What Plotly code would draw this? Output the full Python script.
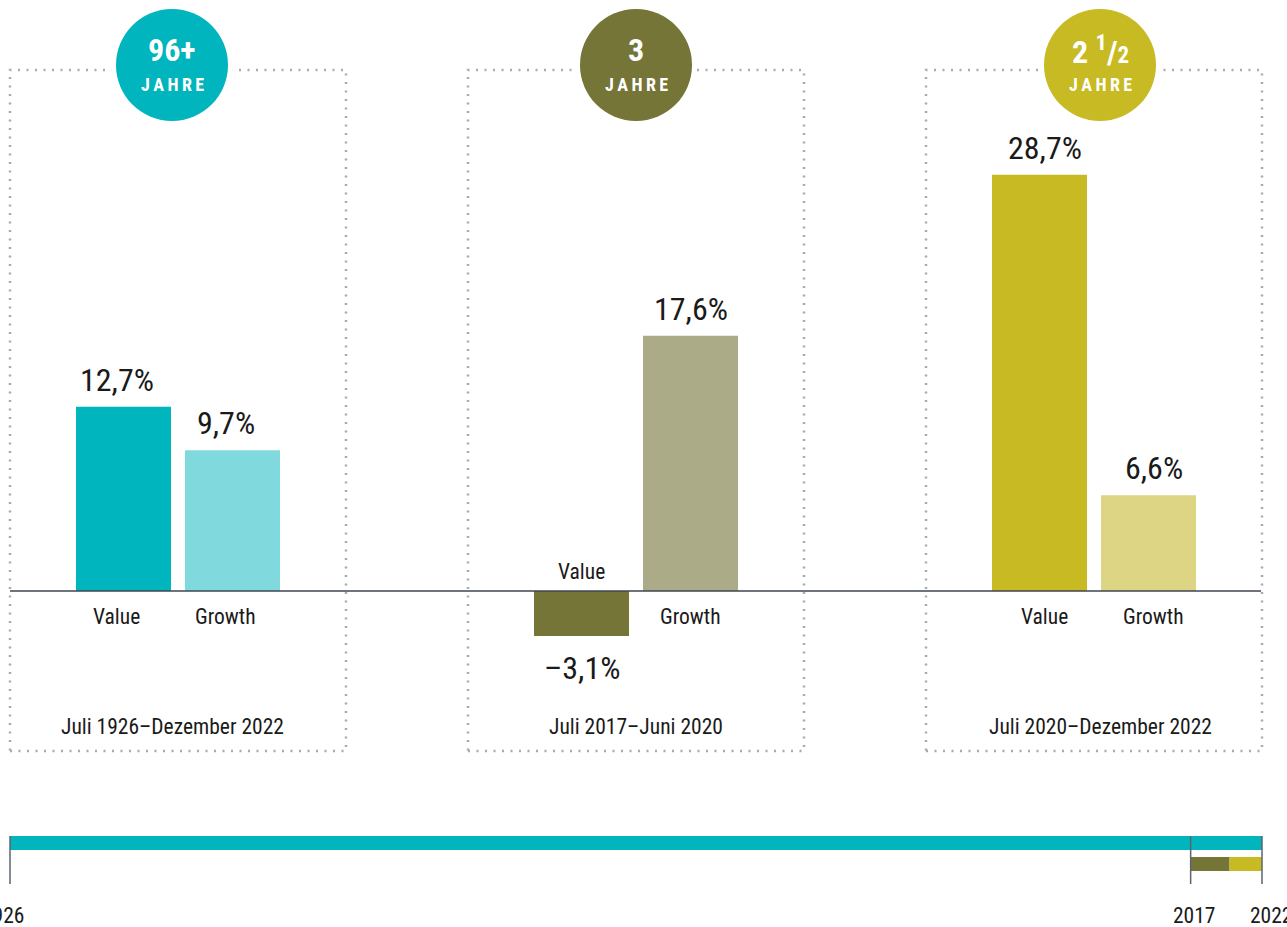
import plotly.graph_objects as go

# ---------------- data ----------------
groups = ["96+", "3", "2 1/2"]
periods = ["Juli 1926–Dezember 2022", "Juli 2017–Juni 2020", "Juli 2020–Dezember 2022"]
series = ["Value", "Growth"]
value_returns = [12.7, -3.1, 28.7]
growth_returns = [9.7, 17.6, 6.6]
timeline_starts = [1926.5, 2017.5, 2020.5]
timeline_ends = [2023.0, 2020.5, 2023.0]
timeline_ticks = [1926.5, 2017.5, 2023.0]
timeline_tick_labels = ["1926", "2017", "2022"]

# ---------------- styling ----------------
W, H = 1287, 927
FONT = "Roboto Condensed, Liberation Sans Narrow, DejaVu Sans Condensed, Arial Narrow, sans-serif"
TXT = "#1a1a1a"
dark_cols = ["#00b5bd", "#747537", "#c8ba22"]
light_cols = ["#80d9dd", "#abab88", "#ddd484"]
box_x = [(10, 346), (468, 804), (926, 1262)]
circle_cx = [172, 636, 1100]
text_shift = [-7, 0, 5]
box_top, box_bot = 70, 751
base_px = 591.0
px_per_unit = 14.5
bar_w = 95
bar_gap = 14
VAL_SIZE = 32
LAB_SIZE = 21.5
PER_SIZE = 21.5


def py(y):  # pixel row -> paper
    return 1 - y / H


y_top = base_px / px_per_unit
y_bot = (base_px - H) / px_per_unit

fig = go.Figure()

xs, ys, cols = [], [], []
for i in range(len(groups)):
    c = (box_x[i][0] + box_x[i][1]) / 2
    xv = c - (bar_w + bar_gap) / 2
    xg = c + (bar_w + bar_gap) / 2
    xs += [xv, xg]
    ys += [value_returns[i], growth_returns[i]]
    cols += [dark_cols[i], light_cols[i]]

fig.add_trace(go.Bar(x=xs, y=ys, width=bar_w, marker=dict(color=cols, line=dict(width=0)),
                     hoverinfo="skip", showlegend=False))

# timeline bars
tl_rows = [843, 864, 864]
tl_cols = [dark_cols[0], dark_cols[1], dark_cols[2]]
for s, e, r, col in zip(timeline_starts, timeline_ends, tl_rows, tl_cols):
    fig.add_trace(go.Bar(x=[e - s], base=[s], y=[r], orientation="h", width=14,
                         marker=dict(color=col, line=dict(width=0)),
                         xaxis="x2", yaxis="y2", hoverinfo="skip", showlegend=False))

shapes = []
annotations = []


def fmt(v):
    s = f"{abs(v):.1f}".replace(".", ",") + "%"
    return ("–" + s) if v < 0 else s


for i in range(len(groups)):
    x0, x1 = box_x[i]
    # dotted box
    shapes.append(dict(type="rect", xref="x", yref="paper", x0=x0, x1=x1, y0=py(box_bot), y1=py(box_top),
                       line=dict(color="#a3abb5", width=2.5, dash="2px,6.5px"), layer="below"))
    cx = circle_cx[i]
    shapes.append(dict(type="circle", xref="x", yref="paper", x0=cx - 61, x1=cx + 61, y0=py(64 + 61), y1=py(64 - 61),
                       fillcolor="white", line=dict(width=0), layer="below"))
    shapes.append(dict(type="circle", xref="x", yref="paper", x0=cx - 56, x1=cx + 56, y0=py(65 + 56), y1=py(65 - 56),
                       fillcolor=dark_cols[i], line=dict(width=0), layer="below"))
    # circle texts
    if groups[i] == "2 1/2":
        top_txt = "<b>2 <sup>1</sup>/<span style='font-size:23px'>2</span></b>"
    else:
        top_txt = f"<b>{groups[i]}</b>"
    annotations.append(dict(text=top_txt, x=cx, y=py(50), xref="x", yref="paper", showarrow=False,
                            font=dict(family=FONT, size=32, color="white"), xanchor="center", yanchor="middle"))
    annotations.append(dict(text="<b>J\u2009A\u2009H\u2009R\u2009E</b>", x=cx, y=py(84), xref="x", yref="paper",
                            showarrow=False, font=dict(family=FONT, size=18, color="white"),
                            xanchor="center", yanchor="middle"))
    # period label
    annotations.append(dict(text=periods[i], x=cx, y=py(726), xref="x", yref="paper", showarrow=False,
                            font=dict(family=FONT, size=PER_SIZE, color=TXT), xanchor="center", yanchor="middle"))
    # bar labels
    for j, (v, name) in enumerate(zip([value_returns[i], growth_returns[i]], series)):
        bx = xs[2 * i + j] + text_shift[i]
        if v >= 0:
            annotations.append(dict(text=fmt(v), x=bx, y=v, xref="x", yref="y", showarrow=False,
                                    font=dict(family=FONT, size=VAL_SIZE, color=TXT), xanchor="center",
                                    yanchor="bottom", yshift=6))
            annotations.append(dict(text=name, x=bx, y=py(616), xref="x", yref="paper", showarrow=False,
                                    font=dict(family=FONT, size=LAB_SIZE, color=TXT), xanchor="center", yanchor="middle"))
        else:
            annotations.append(dict(text=fmt(v), x=bx, y=v, xref="x", yref="y", showarrow=False,
                                    font=dict(family=FONT, size=VAL_SIZE, color=TXT), xanchor="center",
                                    yanchor="top", yshift=-11))
            annotations.append(dict(text=name, x=bx, y=py(571), xref="x", yref="paper", showarrow=False,
                                    font=dict(family=FONT, size=LAB_SIZE, color=TXT), xanchor="center", yanchor="middle"))

# zero line
shapes.append(dict(type="line", xref="x", yref="y", x0=10, x1=1261, y0=0, y1=0,
                   line=dict(color="#3f4650", width=1.5), layer="above"))

# timeline ticks and labels
label_shift = [-7, 3, 9]
for t, lab, sh in zip(timeline_ticks, timeline_tick_labels, label_shift):
    shapes.append(dict(type="line", xref="x2", yref="paper", x0=t, x1=t, y0=py(836), y1=py(884),
                       line=dict(color="#5b6470", width=1.5), layer="above"))
    annotations.append(dict(text=lab, x=t, y=py(915), xref="x2", yref="paper", showarrow=False, xshift=sh,
                            font=dict(family=FONT, size=LAB_SIZE, color=TXT), xanchor="center", yanchor="middle"))

yrs_per_px = (timeline_ends[0] - timeline_starts[0]) / (1262 - 10)
x2_range = [timeline_starts[0] - 10 * yrs_per_px, timeline_ends[0] + (W - 1262) * yrs_per_px]

fig.update_layout(
    width=W, height=H, autosize=False,
    margin=dict(l=0, r=0, t=0, b=0, pad=0),
    paper_bgcolor="white", plot_bgcolor="white",
    barmode="overlay",
    xaxis=dict(range=[0, W], visible=False, fixedrange=True),
    yaxis=dict(range=[y_bot, y_top], visible=False, fixedrange=True),
    xaxis2=dict(range=x2_range, overlaying="x", visible=False, fixedrange=True),
    yaxis2=dict(range=[H, 0], overlaying="y", visible=False, fixedrange=True),
    shapes=shapes, annotations=annotations,
    font=dict(family=FONT),
)

fig.write_html("out.html")
